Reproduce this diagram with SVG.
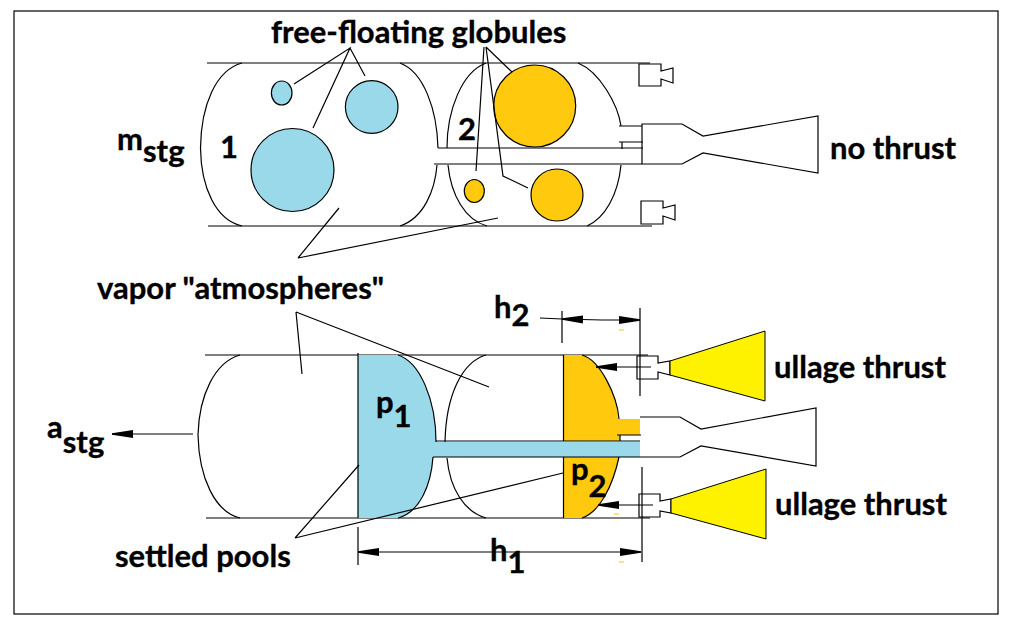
<svg xmlns="http://www.w3.org/2000/svg" width="1013" height="630" viewBox="0 0 1013 630">
<style>
.l{fill:none;stroke:#000;stroke-width:1.2}
.b{fill:#99d9ea;stroke:#000;stroke-width:1.2}
.o{fill:#ffc90e;stroke:#000;stroke-width:1.2}
.bf{fill:#99d9ea;stroke:none}
.of{fill:#ffc90e;stroke:none}
.y{fill:#fff200;stroke:#000;stroke-width:1}
.d{fill:none;stroke:#ffc90e;stroke-width:1.2}
.t{font-family:Lato,"Open Sans","Liberation Sans",sans-serif;font-weight:700;font-size:31px;fill:#000;stroke:#000;stroke-width:.35}
</style>
<defs>
<marker id="ar" markerUnits="userSpaceOnUse" markerWidth="22" markerHeight="10" refX="21" refY="5" orient="auto"><path d="M0 1V9L21 5.800V4.200Z" fill="#000"/></marker>
</defs>
<rect x="14" y="11" width="984" height="603" fill="#fff" stroke="#000" stroke-width="1.2"/>
<g id="stage-top">
<path class="l" d="M207 63H650M208 226H652"/>
<path class="l" d="M242 63C216 70 201 105 200.500 148C201 188 216 220 242 226"/>
<path class="l" d="M400 63C424 72 437 110 438 148M437 165C435 190 424 218 400 226"/>
<path class="l" d="M486 63C462 72 447 110 447 148M448 165C451 195 465 220 487 226"/>
<path class="l" d="M578 63C600 72 618 105 621 126M621 165C618 195 605 218 587 226"/>
<path class="l" d="M438 148H643M434 164H642M619 126H642M619 142H643M622 142V149"/>
<path class="l" d="M642 124H682L703 136L818 116V173L703 153L682 164H642Z"/>
</g>
<g id="globule-1"><ellipse class="b" cx="281.700" cy="93" rx="10.300" ry="12"/></g>
<g id="globule-2"><circle class="b" cx="371.700" cy="107" r="26.300"/></g>
<g id="globule-3"><circle class="b" cx="292.500" cy="170" r="41.500"/></g>
<g id="globule-4"><circle class="o" cx="534.700" cy="106" r="41"/></g>
<g id="globule-5"><ellipse class="o" cx="474.300" cy="191" rx="10" ry="11.500"/></g>
<g id="globule-6"><circle class="o" cx="557" cy="195" r="26"/></g>
<g id="top-cam-1"><path class="l" d="M639 64H661V71L673 68V83L661 79V86H639Z"/></g>
<g id="top-cam-2"><path class="l" d="M641 201H663V208L675 205V220L663 216V224H641Z"/></g>
<g id="stage-bottom">
<path class="l" d="M205 355H648M206 518H650"/>
<path class="l" d="M240 355C215 362 199 395 198 435C199 478 215 512 240 518"/>
<path class="l" d="M486 355C462 362 446 395 445 442M447 458C450 490 465 512 486 518"/>
<path class="bf" d="M358 355H398C420 362 436 400 436 442H640V457H433C431 485 420 512 398 518H358Z"/>
<path class="of" d="M563.500 355H582C600 360 617 395 618 419H640V435H620V441H563.500ZM563.500 457H619C613 485 600 512 582 518H563.500Z"/>
<path class="l" d="M358 353V518M398 355C420 362 436 400 436 442M433 457C431 485 420 512 398 518"/>
<path class="l" d="M563.500 355V441M563.500 457V518M582 355C600 360 617 395 619 419M619 457C613 485 600 512 582 518"/>
<path class="l" d="M436 441H640M433 457H640M617 435H641M620 435V441"/>
<path class="l" d="M640 417H680L701 429L816 408V466L701 446L680 457H640"/>
</g>
<g id="ullage-1"><path class="l" d="M637 356H658V363L670 361V375L658 372V379H637Z"/><path class="y" d="M670 361L765 331V401L670 375Z"/></g>
<g id="ullage-2"><path class="l" d="M639 494H660V501L671 499V513L660 511V517H639Z"/><path class="y" d="M671 499L766 469V539L671 513Z"/></g>
<g id="connectors">
<path class="l" d="M294 84L350 48L313 128M350 48L365 76M484 47L476 171M486 47L503 176L528 188M486 47L512 72M298 258L339 208M298 258L498 218"/>
<path class="l" d="M296 312L302 374M296 312L489 387M295 538L359 465M295 538L563 473"/>
<path class="l" d="M540 318L562 319M562 311V343M640 308V396M642 467V562M358 527V565"/>
<line class="l" x1="602" y1="320" x2="562" y2="319" marker-end="url(#ar)"/>
<line class="l" x1="602" y1="320" x2="640" y2="320" marker-end="url(#ar)"/>
<line class="l" x1="651" y1="367" x2="596" y2="367" marker-end="url(#ar)"/>
<line class="l" x1="653" y1="505" x2="598" y2="505" marker-end="url(#ar)"/>
<line class="l" x1="193" y1="434" x2="112" y2="434" marker-end="url(#ar)"/>
<line class="l" x1="500" y1="552" x2="358" y2="552" marker-end="url(#ar)"/>
<line class="l" x1="500" y1="552" x2="641" y2="552" marker-end="url(#ar)"/>
<path class="d" d="M619 330H624M614 514H619M619 562H624"/>
</g>
<g id="labels">
<text class="t" x="271" y="43">free-floating globules</text>
<text class="t" x="117" y="150">m<tspan dy="12">stg</tspan></text>
<text class="t" x="220" y="158">1</text>
<text class="t" x="458" y="140">2</text>
<text class="t" x="830" y="159">no thrust</text>
<text class="t" x="97" y="299">vapor "atmospheres"</text>
<text class="t" x="494" y="318">h<tspan dy="8">2</tspan></text>
<text class="t" x="774" y="378">ullage thrust</text>
<text class="t" x="775" y="515">ullage thrust</text>
<text class="t" x="376" y="413">p<tspan dy="14">1</tspan></text>
<text class="t" x="571" y="480">p<tspan dy="17">2</tspan></text>
<text class="t" x="47" y="438">a<tspan dy="15">stg</tspan></text>
<text class="t" x="115" y="567">settled pools</text>
<text class="t" x="490" y="561">h<tspan dy="12">1</tspan></text>
</g>
</svg>
